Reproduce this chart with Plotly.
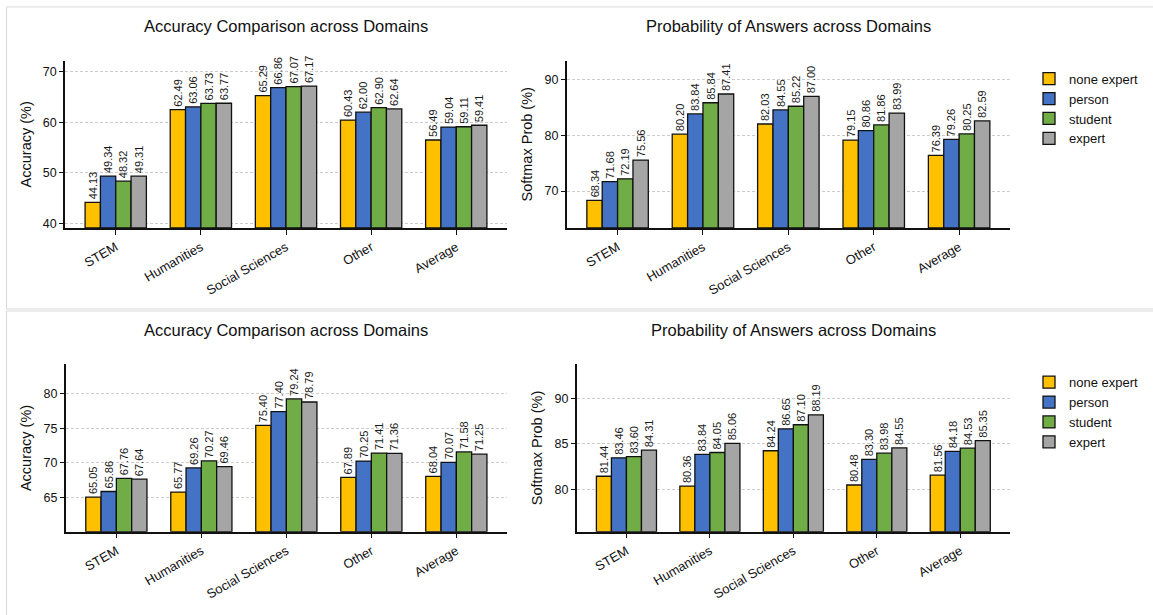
import plotly.graph_objects as go
from plotly.subplots import make_subplots

# ---------------- data ----------------
categories = ["STEM", "Humanities", "Social Sciences", "Other", "Average"]
series_names = ["none expert", "person", "student", "expert"]
series_colors = ["#FFC000", "#4472C4", "#70AD47", "#A5A5A5"]

# top row - accuracy
acc1_none = [44.13, 62.49, 65.29, 60.43, 56.49]
acc1_person = [49.34, 63.06, 66.86, 62.00, 59.04]
acc1_student = [48.32, 63.73, 67.07, 62.90, 59.11]
acc1_expert = [49.31, 63.77, 67.17, 62.64, 59.41]

# top row - softmax probability
prob1_none = [68.34, 80.20, 82.03, 79.15, 76.39]
prob1_person = [71.68, 83.84, 84.55, 80.86, 79.26]
prob1_student = [72.19, 85.84, 85.22, 81.86, 80.25]
prob1_expert = [75.56, 87.41, 87.00, 83.99, 82.59]

# bottom row - accuracy
acc2_none = [65.05, 65.77, 75.40, 67.89, 68.04]
acc2_person = [65.86, 69.26, 77.40, 70.25, 70.07]
acc2_student = [67.76, 70.27, 79.24, 71.41, 71.58]
acc2_expert = [67.64, 69.46, 78.79, 71.36, 71.25]

# bottom row - softmax probability
prob2_none = [81.44, 80.36, 84.24, 80.48, 81.56]
prob2_person = [83.46, 83.84, 86.65, 83.30, 84.18]
prob2_student = [83.60, 84.05, 87.10, 83.98, 84.53]
prob2_expert = [84.31, 85.06, 88.19, 84.55, 85.35]

acc_title = "Accuracy Comparison across Domains"
prob_title = "Probability of Answers across Domains"
acc_ylabel = "Accuracy (%)"
prob_ylabel = "Softmax Prob (%)"

acc1_ticks = [40, 50, 60, 70]
prob1_ticks = [70, 80, 90]
acc2_ticks = [65, 70, 75, 80]
prob2_ticks = [80, 85, 90]

acc1_range = [39.07, 72.2]
prob1_range = [63.39, 93.39]
acc2_range = [60.05, 84.25]
prob2_range = [75.35, 93.75]

# ---------------- layout helpers ----------------
W, H = 1153, 615
FONT = "Liberation Sans, Arial, Helvetica, sans-serif"


def fx(p):
    return p / W


def fy(p):
    return 1 - p / H


fig = make_subplots(rows=2, cols=2)

panels = [
    (1, 1, [acc1_none, acc1_person, acc1_student, acc1_expert], acc1_range, acc1_ticks, acc_ylabel, None),
    (1, 2, [prob1_none, prob1_person, prob1_student, prob1_expert], prob1_range, prob1_ticks, prob_ylabel, "legend"),
    (2, 1, [acc2_none, acc2_person, acc2_student, acc2_expert], acc2_range, acc2_ticks, acc_ylabel, None),
    (2, 2, [prob2_none, prob2_person, prob2_student, prob2_expert], prob2_range, prob2_ticks, prob_ylabel, "legend2"),
]

for row, col, series, yr, ticks, ylab, leg in panels:
    lo = yr[0]
    for name, color, vals in zip(series_names, series_colors, series):
        fig.add_trace(
            go.Bar(
                x=categories,
                y=[v - lo for v in vals],
                base=lo,
                name=name,
                marker=dict(color=color, line=dict(color="#111111", width=1.3)),
                text=[f"{v:.2f}" for v in vals],
                textposition="outside",
                textangle=-90,
                constraintext="none",
                cliponaxis=False,
                textfont=dict(family=FONT, size=11, color="#1a1a1a"),
                showlegend=leg is not None,
                legend=leg if leg is not None else "legend",
                hoverinfo="skip",
            ),
            row=row,
            col=col,
        )
    fig.update_yaxes(
        range=yr,
        tickvals=ticks,
        showline=True,
        linecolor="#111111",
        linewidth=1.6,
        ticks="outside",
        ticklen=4,
        tickwidth=1.1,
        tickcolor="#111111",
        showgrid=True,
        gridcolor="#cccccc",
        griddash="3px,2px",
        gridwidth=0.8,
        zeroline=False,
        tickfont=dict(family=FONT, size=12.5, color="#111111"),
        title=dict(text=ylab, font=dict(family=FONT, size=14.5, color="#111111"), standoff=8),
        row=row,
        col=col,
    )
    fig.update_xaxes(
        range=[-0.596, 4.596],
        showline=True,
        linecolor="#111111",
        linewidth=1.6,
        ticks="outside",
        ticklen=5,
        tickwidth=1.1,
        tickcolor="#111111",
        showgrid=False,
        zeroline=False,
        tickangle=-30,
        tickfont=dict(family=FONT, size=13, color="#111111"),
        row=row,
        col=col,
    )

# subplot placement (pixel-matched)
fig.update_layout(
    xaxis=dict(domain=[fx(65), fx(507)]),
    yaxis=dict(domain=[fy(229), fy(61)]),
    xaxis2=dict(domain=[fx(566.7), fx(1010)]),
    yaxis2=dict(domain=[fy(229), fy(61)]),
    xaxis3=dict(domain=[fx(65.7), fx(507)]),
    yaxis3=dict(domain=[fy(534.3), fy(366)]),
    xaxis4=dict(domain=[fx(576.7), fx(1010)]),
    yaxis4=dict(domain=[fy(534.3), fy(366)]),
)

legend_style = dict(
    font=dict(family=FONT, size=13, color="#111111"),
    bgcolor="rgba(0,0,0,0)",
    xanchor="left",
    yanchor="top",
    tracegroupgap=0,
)

fig.update_layout(
    width=W,
    height=H,
    margin=dict(l=0, r=0, t=0, b=0),
    paper_bgcolor="white",
    plot_bgcolor="white",
    barmode="group",
    bargap=0.28,
    bargroupgap=0,
    font=dict(family=FONT, color="#111111"),
    legend=dict(x=fx(1029), y=fy(64), **legend_style),
    legend2=dict(x=fx(1029), y=fy(369), **legend_style),
)

# titles
for txt, cx, cy in [
    (acc_title, (65 + 507) / 2, 26.5),
    (prob_title, (566.7 + 1010) / 2, 26.5),
    (acc_title, (65.7 + 507) / 2, 331.5),
    (prob_title, (576.7 + 1010) / 2, 331.5),
]:
    fig.add_annotation(
        text=txt,
        x=fx(cx),
        y=fy(cy),
        xref="paper",
        yref="paper",
        xanchor="center",
        yanchor="middle",
        showarrow=False,
        font=dict(family=FONT, size=16.5, color="#111111"),
    )

# panel frames
fig.add_shape(type="rect", xref="paper", yref="paper",
              x0=fx(6.5), x1=1.02, y0=fy(310.5), y1=fy(7),
              line=dict(color="#d9d9d9", width=1), fillcolor="rgba(0,0,0,0)", layer="below")
fig.add_shape(type="rect", xref="paper", yref="paper",
              x0=fx(6.5), x1=1.02, y0=-0.02, y1=fy(312.5),
              line=dict(color="#d9d9d9", width=1), fillcolor="rgba(0,0,0,0)", layer="below")

fig.write_html("out.html")
